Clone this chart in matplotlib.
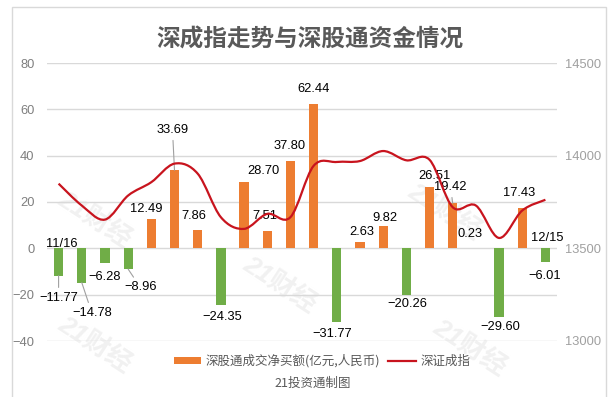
import numpy as np
import matplotlib
matplotlib.use('Agg')
import matplotlib.pyplot as plt
from matplotlib.path import Path
from matplotlib.patches import PathPatch, Rectangle, Patch
from matplotlib.lines import Line2D

plt.rcParams['font.family'] = ['Liberation Sans', 'Noto Sans CJK SC', 'DejaVu Sans']

# net buy amount via Shenzhen connect (100m RMB), one bar per trading day
flows = [-11.77, -14.78, -6.28, -8.96, 12.49, 33.69, 7.86, -24.35, 28.70, 7.51, 37.80,
         62.44, -31.77, 2.63, 9.82, -20.26, 26.51, 19.42, 0.23, -29.60, 17.43, -6.01]
# Shenzhen component index
szci = [13849, 13731, 13655, 13785, 13857, 13957, 13903, 13668, 13605, 13686, 13668,
        13945, 13966, 13971, 14025, 13975, 13978, 13722, 13731, 13556, 13704, 13762]
first_day = '11/16'
last_day = '12/15'

# label offsets in pixels from the bar end (dx, dy), leader line flag
lab_dx = [0, 10, 0, 12, -5, -2, -4, 1, 19, -2, -1, 0, -5, 2, 2, 1, 5, -2, -6, 1, -3, -1]
lab_dy = [-22, -30, -14, -18, 10, 40, 14, -12, 11, 15, 15, 15, -12, 10, 8, -9, 11, 16, 14, -10, 15, -14]
leader = [0, 1, 3, 5, 17]

orange = '#ED7D31'
green = '#70AD47'
red = '#C8141E'
grey_txt = '#595959'

fig = plt.figure(figsize=(6.1, 3.97), dpi=100, facecolor='white')
ax = fig.add_axes([47 / 610, 1 - 341 / 397, 510 / 610, 278 / 397])
ax2 = ax.twinx()
ax.set_zorder(2)
ax2.set_zorder(3)
ax.patch.set_visible(False)
ax2.patch.set_visible(False)

# outer frame
fig.patches.append(Rectangle((12 / 610, -0.02), 594 / 610, 1 - 7 / 397 + 0.02,
                             transform=fig.transFigure, fill=False,
                             edgecolor='#d9d9d9', lw=1, zorder=0))

# watermarks
for wx, wy in [(95, 220), (280, 285), (95, 345), (445, 212), (470, 348)]:
    fig.text(wx / 610, 1 - wy / 397, '21财经', rotation=-33, fontsize=19,
             fontweight='bold', style='italic', color='#f1f1f1',
             ha='center', va='center', zorder=0.5)

x = np.arange(len(flows))
cols = [orange if v >= 0 else green for v in flows]
ax.bar(x, flows, width=0.4, color=cols, zorder=3)

ax.set_xlim(-0.5, len(flows) - 0.5)
ax.set_ylim(-40, 80)
ax.set_yticks(np.arange(-40, 81, 20))
ax.set_xticks([])
ax.grid(axis='y', color='#d9d9d9', lw=1, zorder=0)
ax.set_axisbelow(True)
for s in ax.spines.values():
    s.set_visible(False)
for s in ax2.spines.values():
    s.set_visible(False)
ax.tick_params(axis='y', length=0, pad=9, labelsize=9.3, labelcolor='#7f7f7f')

ax2.set_ylim(13000, 14500)
ax2.set_yticks([13000, 13500, 14000, 14500])
ax2.tick_params(axis='y', length=0, pad=6, labelsize=9.3, labelcolor='#a0a0a0')

# smooth index line (catmull-rom as bezier segments)
pts = np.column_stack([x, szci]).astype(float)
verts = [pts[0]]
codes = [Path.MOVETO]
n = len(pts)
for i in range(n - 1):
    p0 = pts[max(i - 1, 0)]
    p1 = pts[i]
    p2 = pts[i + 1]
    p3 = pts[min(i + 2, n - 1)]
    verts += [p1 + (p2 - p0) / 6, p2 - (p3 - p1) / 6, p2]
    codes += [Path.CURVE4] * 3
ax2.add_patch(PathPatch(Path(verts, codes), fill=False, edgecolor=red, lw=1.6, zorder=4))

# data labels
for i, v in enumerate(flows):
    txt = f'{v:.2f}'.replace('-', '\u2212')
    if i in leader:
        ax.annotate(txt, xy=(i, v), xytext=(lab_dx[i], lab_dy[i]), textcoords='offset pixels',
                    ha='center', va='center', fontsize=9.3, color='black', zorder=5,
                    arrowprops=dict(arrowstyle='-', color='#a0a0a0', lw=0.8,
                                    shrinkA=1, shrinkB=0))
    else:
        ax.annotate(txt, xy=(i, v), xytext=(lab_dx[i], lab_dy[i]), textcoords='offset pixels',
                    ha='center', va='center', fontsize=9.3, color='black', zorder=5)

ax.annotate(first_day, xy=(0, 0), xytext=(3, 4), textcoords='offset pixels',
            ha='center', va='center', fontsize=9.3, color='black', zorder=5)
ax.annotate(last_day, xy=(len(flows) - 1, 0), xytext=(2, 10), textcoords='offset pixels',
            ha='center', va='center', fontsize=9.3, color='black', zorder=5)

fig.text(310 / 610, 1 - 40 / 397, '深成指走势与深股通资金情况', ha='center', va='center',
         fontsize=17, fontweight='bold', color=grey_txt,
         family=['Noto Sans CJK SC', 'DejaVu Sans'])

handles = [Patch(facecolor=orange, edgecolor='none'), Line2D([], [], color=red, lw=1.6)]
labels = ['深股通成交净买额(亿元,人民币)', '深证成指']
leg = fig.legend(handles, labels, loc='center', bbox_to_anchor=(322 / 610, 1 - 361 / 397),
                 ncol=2, frameon=False, handlelength=2.2, handleheight=0.5,
                 handletextpad=0.4, columnspacing=0.6,
                 prop={'family': ['Noto Sans CJK SC', 'DejaVu Sans'], 'size': 9})
for t in leg.get_texts():
    t.set_color(grey_txt)

fig.text(313 / 610, 1 - 383 / 397, '21投资通制图', ha='center', va='center', fontsize=9,
         color=grey_txt, family=['Noto Sans CJK SC', 'DejaVu Sans'])

fig.savefig('out.png', dpi=100, facecolor='white')
